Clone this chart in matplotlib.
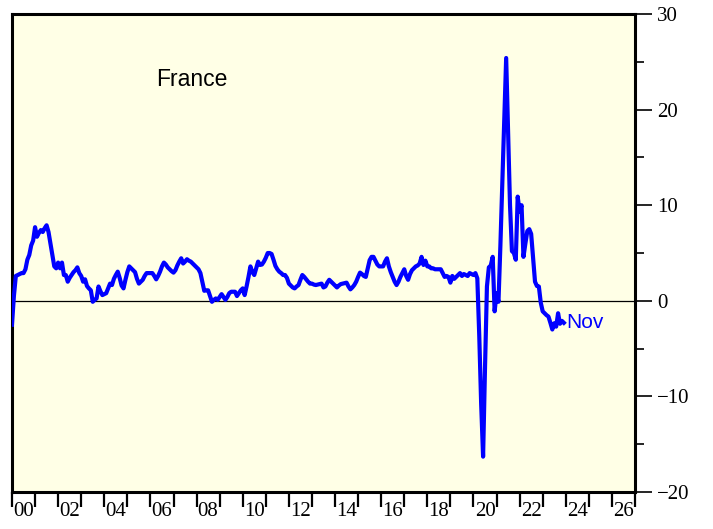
import numpy as np
import pandas as pd
import matplotlib
matplotlib.use("Agg")
import matplotlib.pyplot as plt
from matplotlib.ticker import MultipleLocator, FixedLocator, FixedFormatter

# monthly % values, Dec 1999 .. Nov 2023
start = "1999-12"
vals_1999 = [-2.5]
vals_2000 = [0.5, 2.6, 2.7, 2.8, 2.9, 2.9, 3.3, 4.3, 4.8, 5.8, 6.3, 7.7]
vals_2001 = [6.7, 7.1, 7.4, 7.2, 7.6, 7.9, 7.2, 6.0, 4.8, 3.6, 3.4, 4.0]
vals_2002 = [3.4, 4.0, 2.7, 2.7, 2.0, 2.4, 2.7, 3.0, 3.2, 3.5, 2.9, 2.6]
vals_2003 = [2.0, 2.25, 1.55, 1.3, 1.1, -0.1, 0.1, 0.25, 1.5, 1.0, 0.6, 0.7]
vals_2004 = [0.8, 1.3, 1.8, 1.65, 2.3, 2.7, 3.05, 2.4, 1.6, 1.3, 2.2, 3.0]
vals_2005 = [3.6, 3.4, 3.2, 3.0, 2.3, 1.8, 2.0, 2.2, 2.6, 2.9, 2.9, 2.9]
vals_2006 = [2.9, 2.6, 2.25, 2.6, 3.05, 3.6, 4.0, 3.8, 3.5, 3.3, 3.1, 2.95]
vals_2007 = [3.2, 3.7, 4.1, 4.45, 3.9, 4.1, 4.35, 4.2, 4.1, 3.9, 3.7, 3.5]
vals_2008 = [3.3, 2.9, 2.0, 1.05, 1.1, 1.1, 0.5, -0.1, 0.1, 0.25, 0.1, 0.4]
vals_2009 = [0.7, 0.4, 0.1, 0.4, 0.8, 0.95, 0.95, 0.95, 0.5, 0.8, 1.1, 1.3]
vals_2010 = [0.6, 1.5, 2.5, 3.6, 3.0, 2.7, 3.4, 4.1, 3.75, 3.8, 4.1, 4.5]
vals_2011 = [5.0, 5.0, 4.9, 4.3, 3.65, 3.3, 3.05, 2.9, 2.7, 2.7, 2.4, 1.8]
vals_2012 = [1.6, 1.4, 1.3, 1.5, 1.65, 2.2, 2.7, 2.5, 2.25, 2.0, 1.8, 1.8]
vals_2013 = [1.7, 1.65, 1.7, 1.75, 1.8, 1.4, 1.5, 1.9, 2.2, 2.0, 1.8, 1.6]
vals_2014 = [1.4, 1.6, 1.75, 1.8, 1.85, 1.9, 1.5, 1.2, 1.4, 1.65, 2.0, 2.5]
vals_2015 = [2.95, 2.8, 2.6, 2.5, 3.4, 4.25, 4.6, 4.6, 4.2, 3.8, 3.6, 3.6]
vals_2016 = [3.6, 4.1, 4.45, 3.6, 3.0, 2.5, 2.0, 1.65, 2.0, 2.5, 2.9, 3.3]
vals_2017 = [2.6, 2.2, 2.8, 3.2, 3.4, 3.6, 3.7, 3.9, 4.6, 3.75, 4.2, 3.6]
vals_2018 = [3.6, 3.4, 3.4, 3.3, 3.3, 3.3, 3.3, 2.9, 2.5, 2.6, 2.5, 1.9]
vals_2019 = [2.6, 2.3, 2.5, 2.7, 2.9, 2.6, 2.8, 2.7, 2.6, 2.9, 2.8, 2.7]
vals_2020 = [2.9, 2.35, -3.6, -10.8, -16.3, -7.0, 1.5, 3.5, 3.7, 4.6, -1.1, 0.8]
vals_2021 = [-0.1, 5.8, 12.4, 18.9, 25.4, 17.5, 10.0, 5.2, 5.0, 4.3, 10.9, 9.3]
vals_2022 = [10.0, 4.6, 6.0, 7.3, 7.5, 7.0, 4.5, 2.0, 1.55, 1.5, -0.2, -1.1]
vals_2023 = [-1.3, -1.5, -1.65, -2.3, -3.0, -2.35, -2.7, -1.3, -2.4, -2.1, -2.3]

values = (vals_1999 + vals_2000 + vals_2001 + vals_2002 + vals_2003 + vals_2004
          + vals_2005 + vals_2006 + vals_2007 + vals_2008 + vals_2009 + vals_2010
          + vals_2011 + vals_2012 + vals_2013 + vals_2014 + vals_2015 + vals_2016
          + vals_2017 + vals_2018 + vals_2019 + vals_2020 + vals_2021 + vals_2022
          + vals_2023)

title = "France"
last_label = "Nov"
year_labels = ["00", "02", "04", "06", "08", "10", "12", "14", "16", "18",
               "20", "22", "24", "26"]

periods = pd.period_range(start, periods=len(values), freq="M")
x = periods.year + periods.month / 12.0  # plotted at month end
y = np.array(values)

serif = "Liberation Serif"
sans = "Liberation Sans"

fig = plt.figure(figsize=(7.13, 5.29), dpi=100)
ax = fig.add_axes([0.0168, 0.0699, 0.8738, 0.9036])
ax.set_facecolor("#FFFFE6")

ax.axhline(0, color="black", lw=0.9, zorder=1)
ax.plot(x, y, color="#0000FF", lw=3.0, solid_joinstyle="round", zorder=3)

ax.set_xlim(2000, 2027)
ax.set_ylim(-20, 30)

for s in ax.spines.values():
    s.set_linewidth(2.2)

# x axis: tick every year, labels centred in even years
ax.xaxis.set_major_locator(MultipleLocator(1))
ax.xaxis.set_major_formatter(FixedFormatter([]))
ax.tick_params(axis="x", which="major", direction="out", length=10.5,
               width=1.6, color="black")
lab_pos = [2000.5 + 2 * i for i in range(len(year_labels))]
ax.xaxis.set_minor_locator(FixedLocator(lab_pos))
ax.xaxis.set_minor_formatter(FixedFormatter(year_labels))
ax.tick_params(axis="x", which="minor", length=0, pad=7, labelsize=15)
for t in ax.xaxis.get_minorticklabels():
    t.set_fontfamily(serif)

# y axis on the right
ax.yaxis.tick_right()
ax.yaxis.set_major_locator(MultipleLocator(10))
ax.yaxis.set_minor_locator(MultipleLocator(5))
ax.tick_params(axis="y", which="major", direction="out", length=12,
               width=1.2, pad=4, labelsize=15)
ax.tick_params(axis="y", which="minor", direction="out", length=6.5,
               width=1.2)
for t in ax.yaxis.get_majorticklabels():
    t.set_fontfamily(serif)

ax.text(2006.25, 23.1, title, family=sans, fontsize=16.5, va="center",
        ha="left", color="black")
ax.text(x[-1] + 0.12, y[-1], last_label, family=sans, fontsize=15,
        va="center", ha="left", color="#0000FF")

fig.savefig("out.png", dpi=100)
